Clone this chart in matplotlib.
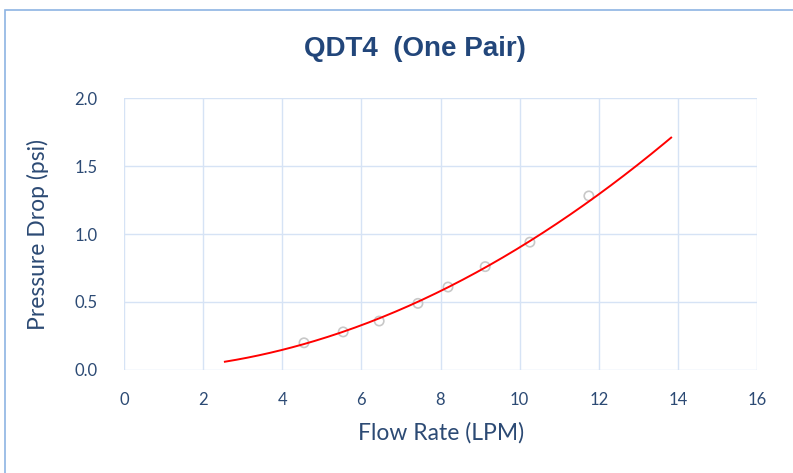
import numpy as np
import matplotlib
matplotlib.use("Agg")
import matplotlib.pyplot as plt
from matplotlib.patches import Rectangle

# measured points (Flow Rate LPM, Pressure Drop psi)
flow = [4.55, 5.54, 6.45, 7.43, 8.19, 9.13, 10.26, 11.75]
dp = [0.20, 0.28, 0.36, 0.49, 0.61, 0.76, 0.94, 1.28]
trend_range = [2.55, 13.83]

xticks = [0, 2, 4, 6, 8, 10, 12, 14, 16]
yticks = [0.0, 0.5, 1.0, 1.5, 2.0]

TXT = "#2C4A74"
GRID = "#D6E3F5"
W, H = 793, 473

fig = plt.figure(figsize=(W / 100, H / 100), dpi=100)
fig.patches.append(Rectangle((5 / W, -0.1), 1.2, 1 - 10 / H + 0.1,
                             transform=fig.transFigure, fill=False,
                             edgecolor="#8EB4E3", lw=1.2))
ax = fig.add_axes([124 / W, 1 - 370 / H, (757 - 124) / W, (370 - 98) / H])

# power trendline y = a*x^b, fitted in log space
b, lna = np.polyfit(np.log(flow), np.log(dp), 1)
xt = np.linspace(trend_range[0], trend_range[1], 200)
ax.plot(xt, np.exp(lna) * xt ** b, color="#FF0000", lw=1.4, zorder=3)
ax.scatter(flow, dp, s=45, facecolors="none", edgecolors="#C8C8C8", lw=1.2, zorder=2)

ax.set_xlim(0, 16)
ax.set_ylim(0, 2.0)
ax.set_xticks(xticks)
ax.set_yticks(yticks)
ax.set_yticklabels([f"{v:.1f}" for v in yticks])
ax.grid(True, color=GRID, lw=1.0)
ax.set_axisbelow(True)
for s in ax.spines.values():
    s.set_visible(False)
ax.tick_params(length=0, labelsize=12, labelcolor=TXT)
ax.tick_params(axis="x", pad=16)
ax.tick_params(axis="y", pad=19)
for lb in ax.get_xticklabels() + ax.get_yticklabels():
    lb.set_family("Lato")

fig.text(441 / W, 1 - 433 / H, "Flow Rate (LPM)", ha="center", va="center",
         fontsize=16.5, color=TXT, family="Lato")
fig.text(38 / W, 1 - 234 / H, "Pressure Drop (psi)", ha="center", va="center",
         rotation=90, fontsize=16.5, color=TXT, family="Lato")
fig.text(415 / W, 1 - 49 / H, "QDT4  (One Pair)", ha="center", va="center",
         fontsize=20, weight="bold", color="#22467A", family="Liberation Sans")

fig.savefig("out.png", dpi=100)
